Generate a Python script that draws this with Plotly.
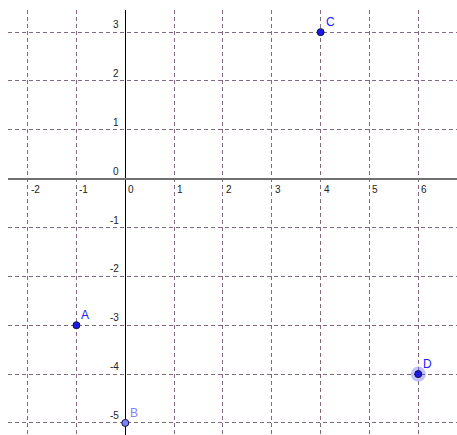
import plotly.graph_objects as go

# Data
point_names = ["A", "B", "C", "D"]
point_x = [-1, 0, 4, 6]
point_y = [-3, -5, 3, -4]
point_fill = ["#1a1ae6", "#8080ff", "#1a1ae6", "#1a1ae6"]
point_label_color = ["#2020ff", "#8080ff", "#2020ff", "#2020ff"]
x_ticks = [-2, -1, 0, 1, 2, 3, 4, 5, 6]
y_ticks = [-5, -4, -3, -2, -1, 0, 1, 2, 3]

fig = go.Figure()

# halo for the selected point D
fig.add_trace(go.Scatter(
    x=[point_x[3]], y=[point_y[3]], mode="markers",
    marker=dict(size=15, color="rgba(80,80,255,0.35)", line=dict(width=0)),
    hoverinfo="skip", showlegend=False))

fig.add_trace(go.Scatter(
    x=point_x, y=point_y, mode="markers",
    marker=dict(size=7, color=point_fill, line=dict(width=1, color="#101040")),
    showlegend=False))

ann = []
for n, x, y, c in zip(point_names, point_x, point_y, point_label_color):
    ann.append(dict(x=x, y=y, text=n, showarrow=False, xanchor="left", yanchor="middle",
                    xshift=3, yshift=10, font=dict(family="Liberation Sans", size=12, color=c)))

tick_font = dict(family="Liberation Sans", size=10, color="#222222")
for t in x_ticks:
    ann.append(dict(x=t, y=0, text=str(t), showarrow=False, xanchor="left", yanchor="top",
                    xshift=1, yshift=-3, font=tick_font))
for t in y_ticks:
    ann.append(dict(x=0, y=t, text=str(t), showarrow=False, xanchor="right", yanchor="bottom",
                    xshift=-4, yshift=0, font=tick_font))

grid = dict(showgrid=True, gridcolor="#83697f", gridwidth=1, griddash="4px,3px",
            dtick=1, tick0=0, showticklabels=False, ticks="", showline=False)

fig.update_layout(
    width=457, height=435,
    margin=dict(l=8, r=0, t=10, b=0),
    paper_bgcolor="white", plot_bgcolor="white",
    xaxis=dict(range=[-2.402, 6.793], zeroline=True, zerolinecolor="#000000",
               zerolinewidth=1, **grid),
    yaxis=dict(range=[-5.247, 3.453], zeroline=True, zerolinecolor="#707070",
               zerolinewidth=1.5, **grid),
    annotations=ann,
)

fig.write_html("out.html", config={"displayModeBar": False},
               post_script="document.body.style.margin='0';document.body.style.overflow='hidden';")
